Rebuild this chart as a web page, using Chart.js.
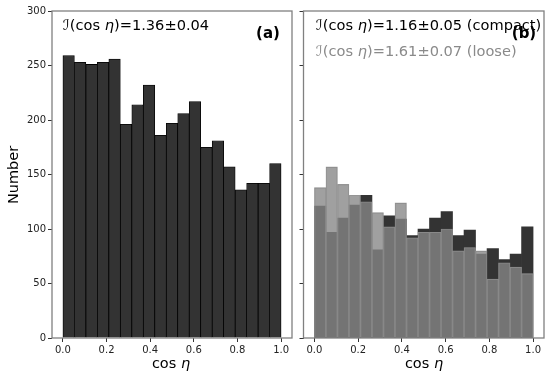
<!DOCTYPE html>
<html><head><meta charset="utf-8">
<script src="https://cdn.jsdelivr.net/npm/chart.js@4"></script>
<style>
html,body{margin:0;padding:0;background:#fff;width:545px;height:373px;overflow:hidden;}
#wrap{position:relative;width:545px;height:373px;}
canvas{position:absolute;top:0;}
</style></head><body>
<div id="wrap">
<canvas id="ca" width="300" height="373" style="left:0px"></canvas>
<canvas id="cb" width="249" height="373" style="left:296px"></canvas>
</div>
<script>
// bin centres of the 19 histogram bins over [0,1]
const binCenters = [0.0263,0.0789,0.1316,0.1842,0.2368,0.2895,0.3421,0.3947,0.4474,0.5,
                    0.5526,0.6053,0.6579,0.7105,0.7632,0.8158,0.8684,0.9211,0.9737];
const allCounts     = [259,253,251,253,256,196,214,232,186,197,206,217,175,181,157,136,142,142,160];
const compactCounts = [121,97,110,122,131,81,112,109,94,100,110,116,94,99,77,82,72,77,102];
const looseCounts   = [138,157,141,131,125,115,102,124,92,97,97,100,80,83,80,54,69,65,59];
const xTicks = [0,0.2,0.4,0.6,0.8,1.0];
const yTicks = [0,50,100,150,200,250,300];

const FONT = "'DejaVu Sans', sans-serif";

function pts(vals){ return vals.map((v,i)=>({x:binCenters[i], y:v})); }

function drawMath(ctx, x, y, parts, size, color, align){
  let w = 0;
  parts.forEach(p=>{ ctx.font = (p[1]?'italic ':'') + size + 'px ' + FONT; w += ctx.measureText(p[0]).width; });
  let cx = align==='center' ? x - w/2 : x;
  ctx.fillStyle = color; ctx.textBaseline='middle'; ctx.textAlign='left';
  parts.forEach(p=>{ ctx.font = (p[1]?'italic ':'') + size + 'px ' + FONT; ctx.fillText(p[0], cx, y); cx += ctx.measureText(p[0]).width; });
}

const deco = {
  id:'deco',
  afterDraw(chart, args, opts){
    const ctx = chart.ctx, a = chart.chartArea;
    ctx.save();
    ctx.strokeStyle='#808080'; ctx.lineWidth=1.3;
    ctx.strokeRect(a.left, a.top, a.right-a.left, a.bottom-a.top);
    (opts.texts||[]).forEach(t=>{
      if (t.bold){
        ctx.font = 'bold ' + t.size + 'px ' + FONT; ctx.fillStyle=t.color;
        ctx.textAlign='center'; ctx.textBaseline='middle'; ctx.fillText(t.parts[0][0], t.x, t.y);
      } else if (t.rot){
        ctx.save(); ctx.translate(t.x, t.y); ctx.rotate(-Math.PI/2);
        drawMath(ctx, 0, 0, t.parts, t.size, t.color, 'center'); ctx.restore();
      } else {
        drawMath(ctx, t.x, t.y, t.parts, t.size, t.color, t.align);
      }
    });
    ctx.restore();
  }
};

function scales(yWidth, showYLabels){
  const grid = {display:true, drawOnChartArea:false, drawTicks:true, tickLength:4, tickColor:'#333', tickWidth:1, offset:false};
  return {
    x:{type:'linear', min:-0.05, max:1.05, offset:false, bounds:'data',
       afterBuildTicks:s=>{ s.ticks = xTicks.map(v=>({value:v})); },
       ticks:{callback:v=>v.toFixed(1), font:{family:FONT,size:10}, color:'#222', padding:2, maxRotation:0, autoSkip:false},
       grid:grid, border:{display:false},
       afterFit:s=>{ s.height = 35; }},
    y:{type:'linear', min:0, max:300,
       afterBuildTicks:s=>{ s.ticks = yTicks.map(v=>({value:v})); },
       ticks:{display:showYLabels, font:{family:FONT,size:10}, color:'#222', padding:2, autoSkip:false},
       grid:grid, border:{display:false},
       afterFit:s=>{ s.width = yWidth; }}
  };
}

const labelX = [['cos ',false],['η',true]];

new Chart(document.getElementById('ca'), {
  type:'bar',
  data:{datasets:[{data:pts(allCounts), backgroundColor:'#333333', borderColor:'#000000', borderWidth:0.8,
                   barPercentage:1, categoryPercentage:1}]},
  options:{
    responsive:false, animation:false, devicePixelRatio:1,
    layout:{padding:{top:11, right:8, left:0, bottom:0}},
    plugins:{legend:{display:false}, tooltip:{enabled:false},
      deco:{texts:[
        {x:63, y:26, size:14.6, color:'#000', parts:[['ℐ(cos ',false],['η',true],[')=1.36±0.04',false]]},
        {x:268, y:34, size:15, color:'#000', bold:true, parts:[['(a)']]},
        {x:171, y:364, size:14.5, color:'#000', align:'center', parts:labelX},
        {x:14, y:175, size:14.5, color:'#000', rot:true, parts:[['Number',false]]}
      ]}},
    scales:scales(52, true)
  },
  plugins:[deco]
});

new Chart(document.getElementById('cb'), {
  type:'bar',
  data:{datasets:[
    {label:'loose', data:pts(looseCounts), backgroundColor:'rgba(135,135,135,0.79)', borderColor:'rgba(150,150,150,0.9)', borderWidth:0.5,
     barPercentage:1, categoryPercentage:1, grouped:false, order:1},
    {label:'compact', data:pts(compactCounts), backgroundColor:'#333333', borderWidth:0,
     barPercentage:1, categoryPercentage:1, grouped:false, order:2}
  ]},
  options:{
    responsive:false, animation:false, devicePixelRatio:1,
    layout:{padding:{top:11, right:1, left:0, bottom:0}},
    plugins:{legend:{display:false}, tooltip:{enabled:false},
      deco:{texts:[
        {x:20, y:26, size:14.6, color:'#000', parts:[['ℐ(cos ',false],['η',true],[')=1.16±0.05 (compact)',false]]},
        {x:20, y:52, size:14.6, color:'#8a8a8a', parts:[['ℐ(cos ',false],['η',true],[')=1.61±0.07 (loose)',false]]},
        {x:228, y:34, size:15, color:'#000', bold:true, parts:[['(b)']]},
        {x:128, y:364, size:14.5, color:'#000', align:'center', parts:labelX}
      ]}},
    scales:scales(7.5, false)
  },
  plugins:[deco]
});
</script>
</body></html>
